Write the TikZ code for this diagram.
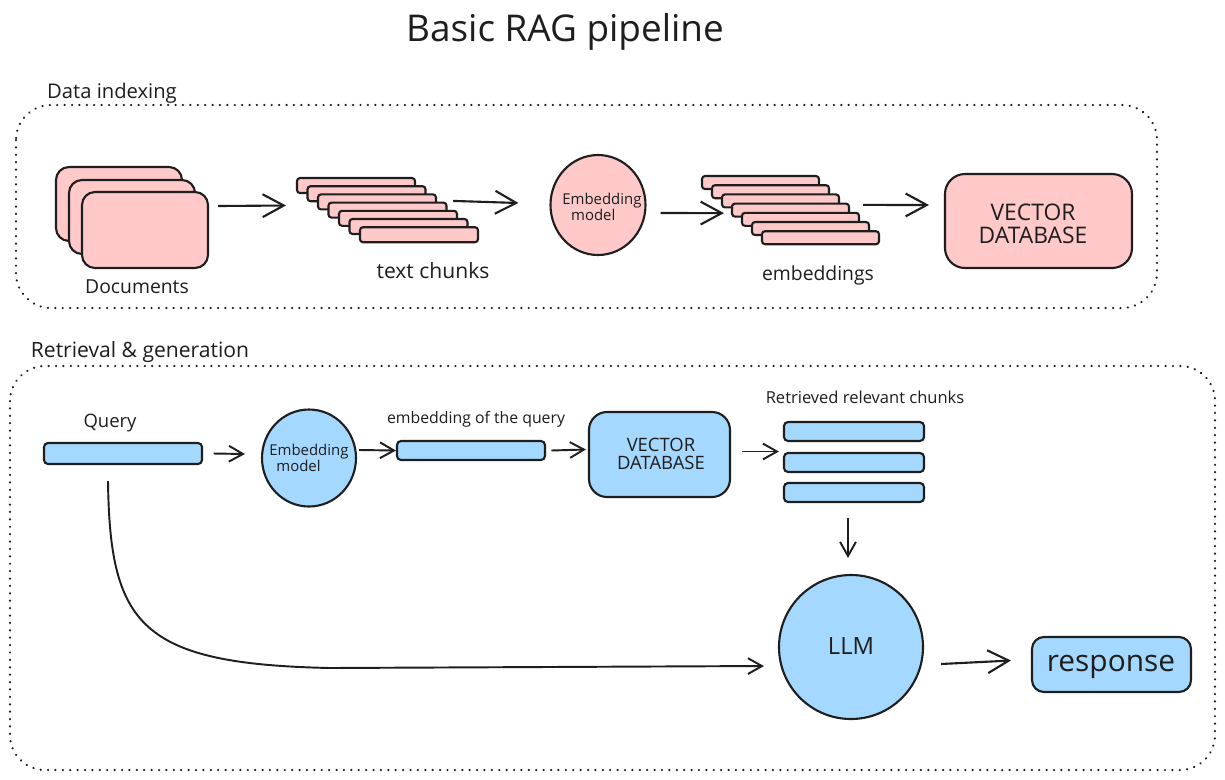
\documentclass[tikz,border=0pt]{standalone}
\usepackage{fontspec}
\setmainfont{Open Sans}
\usetikzlibrary{arrows.meta,shapes.geometric}
\definecolor{ink}{HTML}{1E1E1E}
\definecolor{pinkf}{HTML}{FFC9C9}
\definecolor{bluef}{HTML}{A5D8FF}
\tikzset{
  box/.style={draw=ink, line width=1.2pt, inner sep=0pt, rounded corners=#1},
  pinkbox/.style={box=#1, fill=pinkf},
  bluebox/.style={box=#1, fill=bluef},
  arr/.style={draw=ink, line width=1.2pt, -{Straight Barb[length=12pt,width=13pt,line width=1.2pt]}},
  sarr/.style={draw=ink, line width=1.1pt, -{Straight Barb[length=8pt,width=9pt,line width=1.1pt]}},
  frame/.style={draw=ink, line width=1.4pt, line cap=round, dash pattern=on 0.01pt off 4.2pt, rounded corners=0.7cm},
  lbl/.style={text=ink, inner sep=0pt},
}
\newcommand{\fs}[1]{\fontsize{#1}{#1*1.2}\selectfont}
\begin{document}
\begin{tikzpicture}[x=0.02cm,y=-0.02cm]
\useasboundingbox (0,0) rectangle (1225,779);
\fill[white] (0,0) rectangle (1225,779);

% title
\node[lbl, font=\fs{21pt}] (title) at (565,32) {Basic RAG pipeline};

% ---------- Data indexing ----------
\node[lbl, font=\fs{11.5pt}] (lidx) at (112,93) {Data indexing};
\draw[frame] (16,105) rectangle (1157,308);

% documents
\node[pinkbox=0.26cm, minimum width=126*0.02cm, minimum height=74*0.02cm] (d1) at (119,204) {};
\node[pinkbox=0.26cm, minimum width=126*0.02cm, minimum height=74*0.02cm] (d2) at (132,217) {};
\node[pinkbox=0.26cm, minimum width=126*0.02cm, minimum height=76*0.02cm] (d3) at (145,230) {};
\node[lbl, font=\fs{11pt}] (ldocs) at (137,287) {Documents};

% text chunks
\foreach \i in {0,...,6}
  \node[pinkbox=0.06cm, minimum width=118*0.02cm, minimum height=15*0.02cm] (c\i) at ({356+10.5*\i},{185.5+8.2*\i}) {};
\node[lbl, font=\fs{12pt}] (lchunks) at (433,271) {text chunks};

% embedding model (pink)
\node[draw=ink, line width=1.2pt, fill=pinkf, ellipse, minimum width=95*0.02cm, minimum height=100*0.02cm, inner sep=0pt] (ep) at (598,205) {};
\node[lbl, font=\fs{8.5pt}, align=left, anchor=west] (lep) at (562,207) {Embedding\\[1pt]\hspace*{5pt}model};

% embeddings
\foreach \i in {0,...,6}
  \node[pinkbox=0.06cm, minimum width=117*0.02cm, minimum height=13*0.02cm] (e\i) at ({760.5+10*\i},{182.5+9.2*\i}) {};
\node[lbl, font=\fs{11pt}] (lemb) at (818,275) {embeddings};

% vector database (pink)
\node[pinkbox=0.4cm, minimum width=187*0.02cm, minimum height=94*0.02cm] (vdb) at (1038.5,221) {};
\node[lbl, font=\fs{13pt}, align=center] (lvdb) at (1033,224) {VECTOR\\DATABASE};

% arrows (indexing)
\draw[arr] ([shift={(9,-24)}]d3.east) -- ([shift={(-10,20)}]c0.west);
\draw[arr] ([shift={(16,-1)}]c2.east) -- ([shift={(-31,-2)}]ep.west);
\draw[arr] ([shift={(14,8)}]ep.east) -- ([shift={(-7,3)}]e3.west);
\draw[arr] ([shift={(23,4)}]e2.east) -- ([shift={(-15,-16)}]vdb.west);

% ---------- Retrieval & generation ----------
\node[lbl, font=\fs{12pt}] (lret) at (140,352) {Retrieval \& generation};
\draw[frame] (10,366) rectangle (1215,770);

% query
\node[bluebox=0.08cm, minimum width=158*0.02cm, minimum height=21*0.02cm] (q) at (123,453.5) {};
\node[lbl, font=\fs{10.5pt}] (lq) at (110,423) {Query};

% embedding model (blue)
\node[draw=ink, line width=1.2pt, fill=bluef, ellipse, minimum width=94*0.02cm, minimum height=97*0.02cm, inner sep=0pt] (eb) at (309,458) {};
\node[lbl, font=\fs{8.5pt}, align=left, anchor=west] (leb) at (269,458) {Embedding\\[1pt]\hspace*{4pt}model};

% query embedding
\node[bluebox=0.08cm, minimum width=148*0.02cm, minimum height=19*0.02cm] (qe) at (471,450.5) {};
\node[lbl, font=\fs{9pt}] (lqe) at (476,419) {embedding of the query};

% vector database (blue)
\node[bluebox=0.36cm, minimum width=141*0.02cm, minimum height=85*0.02cm] (vdb2) at (659.5,454.5) {};
\node[lbl, font=\fs{10.5pt}, align=center] (lvdb2) at (661,454) {VECTOR\\DATABASE};

% retrieved chunks
\node[bluebox=0.08cm, minimum width=140*0.02cm, minimum height=19*0.02cm] (r1) at (854,431.5) {};
\node[bluebox=0.08cm, minimum width=140*0.02cm, minimum height=19*0.02cm] (r2) at (854,462.5) {};
\node[bluebox=0.08cm, minimum width=140*0.02cm, minimum height=19*0.02cm] (r3) at (854,492.5) {};
\node[lbl, font=\fs{9.4pt}] (lr) at (865,397) {Retrieved relevant chunks};

% LLM
\node[draw=ink, line width=1.2pt, fill=bluef, circle, minimum size=144*0.02cm, inner sep=0pt] (llm) at (851,647) {};
\node[lbl, font=\fs{13.5pt}] (lllm) at (851,646) {LLM};

% response
\node[bluebox=0.24cm, minimum width=159*0.02cm, minimum height=55*0.02cm] (resp) at (1111.5,664.5) {};
\node[lbl, font=\fs{17pt}] (lresp) at (1111,667) {response};

% arrows (retrieval)
\draw[sarr] ([xshift=6]q.east) -- ([shift={(-16,-4)}]eb.west);
\draw[sarr] ([shift={(2,-8)}]eb.east) -- (qe.west);
\draw[sarr] ([xshift=3]qe.east) -- ([shift={(-2,-5)}]vdb2.west);
\draw[sarr] ([shift={(11,-3)}]vdb2.east) -- ([shift={(-4,-11)}]r2.west);
\draw[sarr] ([shift={(-6,15)}]r3.south) -- ([shift={(-3,-16)}]llm.north);
\draw[arr] ([shift={(17,17)}]llm.east) -- ([shift={(-20,-4)}]resp.west);
\draw[sarr] ([shift={(-15,16)}]q.south) .. controls (110,625) and (140,664) .. (330,668) -- ([shift={(-14,19)}]llm.west);
\end{tikzpicture}
\end{document}
